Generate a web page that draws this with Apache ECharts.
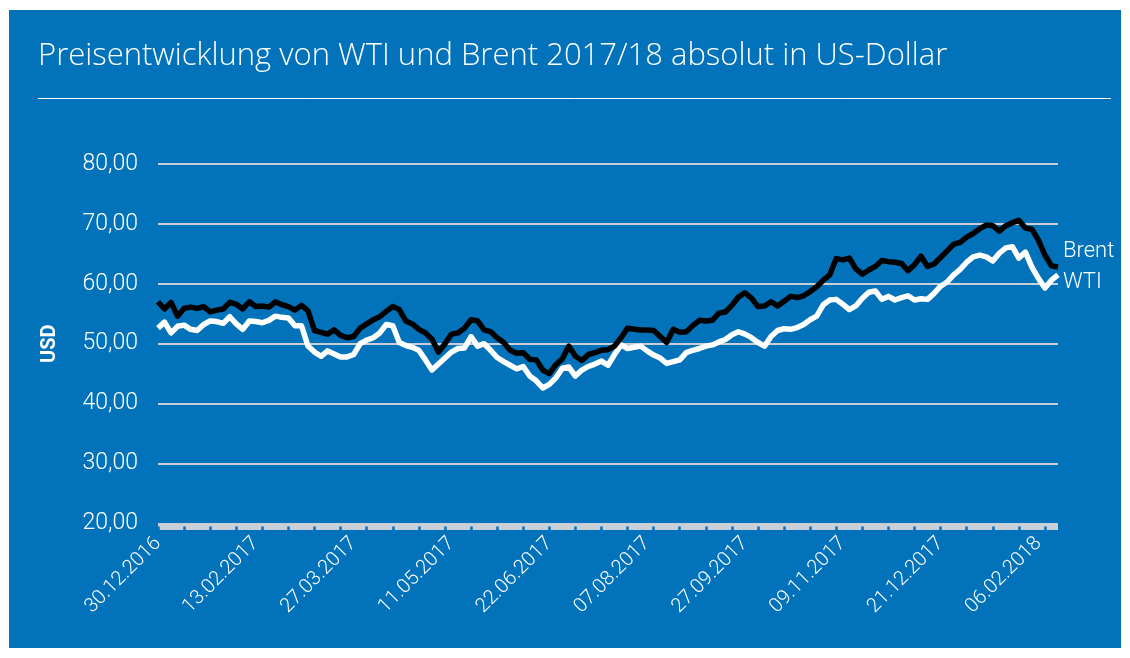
<!DOCTYPE html>
<html>
<head>
<meta charset="utf-8">
<script src="https://cdn.jsdelivr.net/npm/echarts@6/dist/echarts.min.js"></script>
<style>
  html, body { margin: 0; padding: 0; background: #fff; }
  #frame { position: relative; width: 1130px; height: 658px; background: #fff; }
  #chart { position: absolute; left: 9px; top: 10px; width: 1112px; height: 638px; }
</style>
</head>
<body>
<div id="frame"><div id="chart"></div></div>
<script>
// tick labels shown every 15th point on the x axis
const labelDates = ['30.12.2016', '13.02.2017', '27.03.2017', '11.05.2017', '22.06.2017',
  '07.08.2017', '27.09.2017', '09.11.2017', '21.12.2017', '06.02.2018']
const labelStep = 15

const yTicks = [20, 30, 40, 50, 60, 70, 80]

const brent = [
  57.0, 55.8, 56.9, 54.6, 55.9, 56.1, 55.9, 56.2, 55.3, 55.6,
  55.8, 56.9, 56.6, 55.8, 57.0, 56.2, 56.3, 56.1, 57.0, 56.5,
  56.2, 55.6, 56.4, 55.5, 52.2, 51.9, 51.6, 52.3, 51.4, 51.0,
  51.2, 52.6, 53.3, 54.0, 54.5, 55.4, 56.2, 55.7, 53.8, 53.3,
  52.4, 51.8, 50.8, 48.6, 50.0, 51.6, 51.8, 52.6, 54.0, 53.8,
  52.3, 52.0, 51.0, 50.2, 48.9, 48.4, 48.5, 47.4, 47.3, 45.6,
  45.0, 46.5, 47.5, 49.6, 47.9, 47.2, 48.2, 48.5, 48.9, 49.0,
  49.6, 51.0, 52.6, 52.4, 52.3, 52.3, 52.2, 51.2, 50.2, 52.4,
  51.9, 52.0, 53.0, 53.9, 53.8, 53.9, 55.1, 55.3, 56.4, 57.8,
  58.5, 57.6, 56.2, 56.3, 57.0, 56.3, 57.1, 57.9, 57.7, 58.0,
  58.7, 59.5, 60.6, 61.5, 64.2, 64.0, 64.3, 62.5, 61.6, 62.3,
  62.9, 63.9, 63.7, 63.6, 63.4, 62.2, 63.2, 64.6, 62.9, 63.3,
  64.4, 65.5, 66.6, 66.9, 67.8, 68.4, 69.2, 69.8, 69.7, 68.8,
  69.7, 70.2, 70.6, 69.3, 69.1, 67.3, 64.8, 63.0, 62.8
]

const wti = [
  52.6, 53.6, 51.8, 52.9, 53.1, 52.4, 52.2, 53.2, 53.8, 53.7,
  53.4, 54.5, 53.3, 52.4, 53.8, 53.7, 53.5, 53.9, 54.6, 54.4,
  54.3, 53.0, 53.0, 49.6, 48.6, 47.9, 48.8, 48.3, 47.8, 47.8,
  48.2, 50.0, 50.6, 51.0, 51.8, 53.2, 53.0, 50.2, 49.7, 49.4,
  48.9, 47.3, 45.6, 46.6, 47.6, 48.6, 49.2, 49.3, 51.2, 49.6,
  50.0, 48.9, 47.7, 47.0, 46.4, 45.8, 46.2, 44.6, 43.8, 42.6,
  43.2, 44.3, 45.9, 46.1, 44.6, 45.6, 46.2, 46.6, 47.1, 46.4,
  48.2, 49.8, 49.2, 49.4, 49.6, 48.8, 48.1, 47.6, 46.7, 47.0,
  47.3, 48.5, 48.9, 49.2, 49.6, 49.8, 50.3, 50.7, 51.5, 52.0,
  51.6, 51.0, 50.2, 49.6, 51.2, 52.2, 52.5, 52.4, 52.7, 53.2,
  54.0, 54.6, 56.5, 57.3, 57.4, 56.6, 55.7, 56.3, 57.6, 58.6,
  58.8, 57.4, 57.9, 57.3, 57.7, 58.0, 57.3, 57.5, 57.4, 58.4,
  59.6, 60.3, 61.5, 62.4, 63.6, 64.5, 64.8, 64.5, 63.8, 65.1,
  66.0, 66.2, 64.3, 65.3, 62.8, 60.9, 59.3, 60.6, 61.5
]

const categories = brent.map((_, i) => (i % labelStep === 0 ? labelDates[i / labelStep] : String(i)))

const blue = '#0273ba'
const gridGray = '#c9cfd6'
const labelFont = 'Roboto, "Liberation Sans", sans-serif'

const chart = echarts.init(document.getElementById('chart'))

chart.setOption({
  backgroundColor: blue,
  animation: false,
  title: {
    text: 'Preisentwicklung von WTI und Brent 2017/18 absolut in US-Dollar',
    left: 29,
    top: 31,
    padding: 0,
    textStyle: { color: '#fff', fontSize: 31, fontWeight: 300, fontFamily: '"Open Sans", sans-serif' },
  },
  graphic: [{
    type: 'line',
    shape: { x1: 29, y1: 88.5, x2: 1102, y2: 88.5 },
    style: { stroke: '#fff', lineWidth: 1 },
  }],
  grid: { left: 149, right: 63, top: 154, bottom: 124.6 },
  xAxis: [{
    type: 'category',
    data: categories,
    boundaryGap: false,
    offset: 3,
    axisLine: { lineStyle: { color: gridGray, width: 7, cap: 'butt' } },
    axisTick: { show: false },
    axisLabel: {
      interval: labelStep - 1,
      rotate: 45,
      margin: 14,
      color: '#fff',
      fontSize: 20,
      fontWeight: 300,
      fontFamily: labelFont,
    },
    splitLine: { show: false },
  }, {
    // blue notches cut into the grey axis band
    type: 'category',
    data: categories,
    boundaryGap: false,
    position: 'bottom',
    offset: 3,
    axisLine: { show: false },
    axisTick: {
      show: true,
      interval: 3,
      length: 5,
      lineStyle: { color: blue, width: 2.5 },
    },
    axisLabel: { show: false },
    splitLine: { show: false },
  }],
  yAxis: {
    type: 'value',
    min: yTicks[0],
    max: yTicks[yTicks.length - 1],
    interval: 10,
    name: 'USD',
    nameLocation: 'middle',
    nameRotate: 90,
    nameGap: 98,
    nameTextStyle: { color: '#fff', fontSize: 20, fontWeight: 'bold', fontFamily: labelFont },
    axisLine: { show: false },
    axisTick: { show: false },
    axisLabel: {
      margin: 20,
      color: '#fff',
      fontSize: 23,
      fontWeight: 300,
      fontFamily: labelFont,
      formatter: (v) => v.toFixed(2).replace('.', ','),
    },
    splitLine: { lineStyle: { color: gridGray, width: 2 } },
  },
  series: [
    {
      name: 'WTI',
      type: 'line',
      data: wti,
      symbol: 'none',
      lineStyle: { color: '#fff', width: 5.5, join: 'round' },
      endLabel: {
        show: true, formatter: '{a}', color: '#fff', fontSize: 22,
        fontWeight: 300, fontFamily: labelFont, distance: 5, offset: [0, 8],
      },
    },
    {
      name: 'Brent',
      type: 'line',
      data: brent,
      symbol: 'none',
      lineStyle: { color: '#000', width: 5.5, join: 'round' },
      endLabel: {
        show: true, formatter: '{a}', color: '#fff', fontSize: 22,
        fontWeight: 300, fontFamily: labelFont, distance: 5, offset: [0, -16],
      },
    },
  ],
})
</script>
</body>
</html>
